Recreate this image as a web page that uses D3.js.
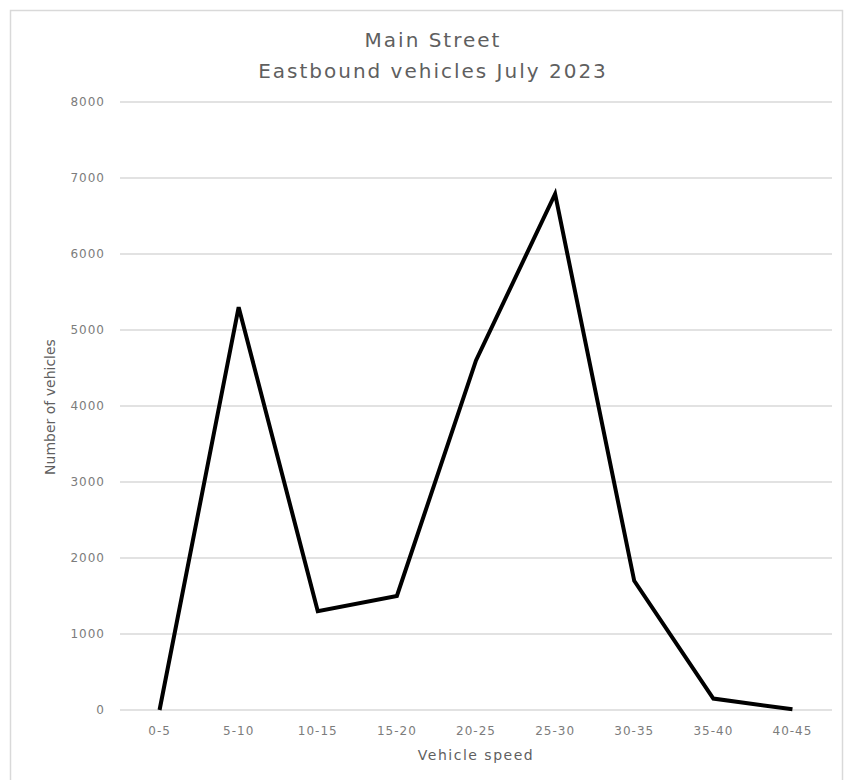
<!DOCTYPE html>
<html><head><meta charset="utf-8">
<script src="https://cdn.jsdelivr.net/npm/d3@7"></script>
<style>body{margin:0;background:#fff}svg{display:block}</style>
</head><body>
<script>
const categories = ["0-5","5-10","10-15","15-20","20-25","25-30","30-35","35-40","40-45"];
const vehicles = [0,5300,1300,1500,4600,6790,1700,150,10];
const yTicks = [0,1000,2000,3000,4000,5000,6000,7000,8000];
const titleLines = ["Main Street","Eastbound vehicles July 2023"];

const W=844,H=780;
const svg=d3.select("body").append("svg").attr("width",W).attr("height",H);
svg.append("rect").attr("x",10.5).attr("y",10.5).attr("width",832).attr("height",780)
  .attr("fill","#fff").attr("stroke","#d9d9d9").attr("stroke-width",1.5);

const x=d3.scaleBand().domain(categories).range([120,832]);
const y=d3.scaleLinear().domain([0,8000]).range([710,102]);
const font="'DejaVu Sans', sans-serif";
const grey="#5f5f5f";
const tickGrey="#7c7c7c";

svg.append("g").selectAll("line").data(yTicks).join("line")
  .attr("x1",120).attr("x2",832).attr("y1",d=>y(d)).attr("y2",d=>y(d))
  .attr("stroke","#d9d9d9").attr("stroke-width",1.3);

const yAxis=svg.append("g").attr("transform","translate(105,0)")
  .call(d3.axisLeft(y).tickValues(yTicks).tickSize(0).tickPadding(0).tickFormat(d3.format("d")));
yAxis.select(".domain").remove();
yAxis.selectAll("text").attr("font-family",font).attr("font-size",12).attr("fill",tickGrey)
  .attr("letter-spacing",1);

const xAxis=svg.append("g").attr("transform","translate(0,735)")
  .call(d3.axisBottom(x).tickSize(0).tickPadding(0));
xAxis.select(".domain").remove();
xAxis.selectAll("text").attr("font-family",font).attr("font-size",12).attr("fill",tickGrey)
  .attr("dy",0).attr("y",0).attr("letter-spacing",1);

const line=d3.line().x((d,i)=>x(categories[i])+x.bandwidth()/2).y(d=>y(d));
svg.append("path").datum(vehicles).attr("d",line).attr("fill","none")
  .attr("stroke","#000").attr("stroke-width",4).attr("stroke-linejoin","miter");

svg.append("text").attr("x",433).attr("y",47).attr("text-anchor","middle")
  .attr("font-family",font).attr("font-size",20).attr("letter-spacing",2).attr("fill",grey).text(titleLines[0]);
svg.append("text").attr("x",433).attr("y",78).attr("text-anchor","middle")
  .attr("font-family",font).attr("font-size",20).attr("letter-spacing",2).attr("fill",grey).text(titleLines[1]);

svg.append("text").attr("x",476).attr("y",760).attr("text-anchor","middle")
  .attr("font-family",font).attr("font-size",14).attr("letter-spacing",1.5).attr("fill",grey).text("Vehicle speed");
svg.append("text").attr("transform","translate(55,407) rotate(-90)").attr("text-anchor","middle")
  .attr("font-family",font).attr("font-size",14).attr("fill",grey).text("Number of vehicles");
</script>
</body></html>
